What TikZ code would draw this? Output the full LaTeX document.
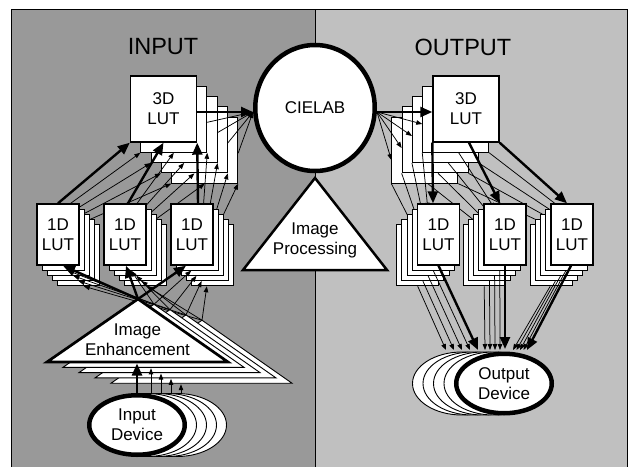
\documentclass[tikz,border=0pt]{standalone}
\usepackage{fontspec}
\setmainfont{Liberation Sans}
\usetikzlibrary{arrows.meta,shapes.geometric}
\definecolor{inbg}{gray}{0.6}
\definecolor{outbg}{gray}{0.753}
\begin{document}
\begin{tikzpicture}[x=1pt,y=-1pt,
  txt/.style={font=\fontsize{17}{20}\selectfont, align=center, inner sep=0pt},
  ttl/.style={font=\fontsize{23.5}{26}\selectfont, inner sep=0pt},
  bigbox/.style={draw, fill=white, minimum width=66pt, minimum height=66pt, inner sep=0pt, line width=1.4pt, txt},
  bigcopy/.style={draw, fill=white, minimum width=66pt, minimum height=66pt, inner sep=0pt, line width=0.9pt},
  smallbox/.style={draw, fill=white, minimum width=42pt, minimum height=61pt, inner sep=0pt, line width=1.4pt, txt},
  smallcopy/.style={draw, fill=white, minimum width=42pt, minimum height=61pt, inner sep=0pt, line width=0.9pt},
  devmain/.style={draw, fill=white, ellipse, line width=4.5pt, minimum width=95.5pt, minimum height=59.5pt, inner sep=0pt, txt},
  devcopy/.style={draw, fill=white, ellipse, line width=0.9pt, minimum width=99pt, minimum height=63pt, inner sep=0pt},
  ciestyle/.style={draw, fill=white, ellipse, line width=4.5pt, minimum width=119.5pt, minimum height=126pt, inner sep=0pt, txt},
  tricopy/.style={draw, fill=white, line width=0.9pt, line join=miter},
  trimain/.style={draw, fill=white, line width=2.7pt, line join=miter},
  tarrow/.style={line width=0.75pt, -{Triangle[length=6pt,width=4.5pt]}},
  barrow/.style={line width=2.4pt, -{Triangle[length=12pt,width=10pt]}}
]
\useasboundingbox (0,0) rectangle (629,466);
% background panels
\fill[inbg] (11.5,9) rectangle (315,470);
\fill[outbg] (315,9) rectangle (627.5,470);
\draw[line width=1pt] (11.5,470) -- (11.5,9) -- (627.5,9) -- (627.5,470);
\draw[line width=0.8pt] (315,9) -- (315,470);
% titles
\node[ttl] (tin) at (163,47) {INPUT};
\node[ttl] (tout) at (463,47) {OUTPUT};
% CIELAB and image processing
\node[ciestyle] (cie) at (315,108) {CIELAB};
\coordinate (ipA) at (315,178);
\coordinate (ipL) at (243,270);
\coordinate (ipR) at (387,270);
\draw[fill=white, line width=2.5pt, line join=miter] (ipA) -- (ipR) -- (ipL) -- cycle;
\node[txt] (ip) at (315,240) {Image\\Processing};
% stacked copies, back to front
\foreach \k in {4,3,2,1} {
  % input device and enhancement
  \node[devcopy] (idev\k) at ({137+10*\k},425) {};
  \coordinate (ieA\k) at ({138+16*\k},{299+5.3*\k});
  \coordinate (ieL\k) at ({47+16*\k},{362+5.3*\k});
  \coordinate (ieR\k) at ({228+16*\k},{362+5.3*\k});
  \draw[tricopy] (ieA\k) -- (ieR\k) -- (ieL\k) -- cycle;
  \coordinate (ieB\k) at ({141+10*\k},{363+5.3*\k});
  \draw[tarrow] ([xshift=4pt]idev\k.north) -- (ieB\k);
  % input LUTs
  \node[smallcopy] (ia\k) at ({58+5.2*\k},{234.5+5.2*\k}) {};
  \node[smallcopy] (ib\k) at ({125+5.2*\k},{234.5+5.2*\k}) {};
  \node[smallcopy] (ic\k) at ({192+5.2*\k},{234.5+5.2*\k}) {};
  \node[bigcopy] (i3\k) at ({163.5+10.3*\k},{109+10.3*\k}) {};
  \draw[tarrow] (ieA\k) -- ([xshift=5pt]ia\k.south);
  \draw[tarrow] (ieA\k) -- ([xshift=1pt]ib\k.south);
  \draw[tarrow] (ieA\k) -- ([xshift=-6pt]ic\k.south);
  \draw[tarrow] (ia\k.north) -- (i3\k.south west);
  \draw[tarrow] ([xshift=3pt]ib\k.north) -- (i3\k.south);
  \draw[tarrow] ([xshift=6pt]ic\k.north) -- (i3\k.south east);
  \draw[tarrow] ([yshift=-3pt]i3\k.east) -- ([yshift=-4pt]cie.west);
  % output side
  \node[bigcopy] (o3\k) at ({466-10.3*\k},{109+10.3*\k}) {};
  \node[smallcopy] (oa\k) at ({438.5-5.2*\k},{234.5+5.2*\k}) {};
  \node[smallcopy] (ob\k) at ({505-5.2*\k},{234.5+5.2*\k}) {};
  \node[smallcopy] (oc\k) at ({572-5.2*\k},{234.5+5.2*\k}) {};
  \node[devcopy] (odev\k) at ({504-10.5*\k},383.5) {};
  \draw[tarrow] ([yshift=-4pt]cie.east) -- ([yshift={-(3+1.7*\k)*1pt}]o3\k.west);
  \draw[tarrow] (o3\k.south west) -- ([xshift=-5.5pt]oa\k.north);
  \draw[tarrow] ([xshift=3pt]o3\k.south) -- ([xshift=-5pt]ob\k.north);
  \draw[tarrow] (o3\k.south east) -- ([xshift=-5pt]oc\k.north);
  \coordinate (odA\k) at ({478-8*\k},350);
  \coordinate (odB\k) at ({505-5*\k},350);
  \coordinate (odC\k) at ({527-3.5*\k},350);
  \draw[tarrow] (oa\k.south) -- (odA\k);
  \draw[tarrow] (ob\k.south) -- (odB\k);
  \draw[tarrow] ([xshift=-1pt]oc\k.south) -- (odC\k);
}
% main layer: input
\node[devmain] (idev0) at (137,425) {Input\\Device};
\coordinate (ieA0) at (138,299);
\coordinate (ieL0) at (47,362);
\coordinate (ieR0) at (228,362);
\draw[trimain] (ieA0) -- (ieR0) -- (ieL0) -- cycle;
\node[txt] (ie) at (137.5,340) {Image\\Enhancement};
\coordinate (ieB0) at (137,363.5);
\draw[barrow] (idev0.north) -- (ieB0);
\node[smallbox] (ia0) at (58,234.5) {1D\\LUT};
\node[smallbox] (ib0) at (125,234.5) {1D\\LUT};
\node[smallbox] (ic0) at (192,234.5) {1D\\LUT};
\node[bigbox] (i30) at (163.5,109) {3D\\LUT};
\draw[barrow] (ieA0) -- ([xshift=5pt]ia0.south);
\draw[barrow] (ieA0) -- ([xshift=1pt]ib0.south);
\draw[barrow] (ieA0) -- ([xshift=-6pt]ic0.south);
\draw[barrow] (ia0.north) -- (i30.south west);
\draw[barrow] ([xshift=3pt]ib0.north) -- (i30.south);
\draw[barrow] ([xshift=6pt]ic0.north) -- (i30.south east);
\draw[barrow] ([yshift=-3pt]i30.east) -- ([yshift=-4pt]cie.west);
% main layer: output
\node[bigbox] (o30) at (466,109) {3D\\LUT};
\node[smallbox] (oa0) at (438.5,234.5) {1D\\LUT};
\node[smallbox] (ob0) at (505,234.5) {1D\\LUT};
\node[smallbox] (oc0) at (572,234.5) {1D\\LUT};
\node[devmain] (odev0) at (504,383.5) {Output\\Device};
\draw[barrow] ([yshift=-4pt]cie.east) -- ([yshift=-3pt]o30.west);
\draw[barrow] (o30.south west) -- ([xshift=-5.5pt]oa0.north);
\draw[barrow] ([xshift=3pt]o30.south) -- ([xshift=-5pt]ob0.north);
\draw[barrow] (o30.south east) -- ([xshift=-5pt]oc0.north);
\coordinate (odA0) at (478,350);
\coordinate (odB0) at (505,349);
\coordinate (odC0) at (527,350);
\draw[barrow] (oa0.south) -- (odA0);
\draw[barrow] (ob0.south) -- (odB0);
\draw[barrow] ([xshift=-1pt]oc0.south) -- (odC0);
\end{tikzpicture}
\end{document}
